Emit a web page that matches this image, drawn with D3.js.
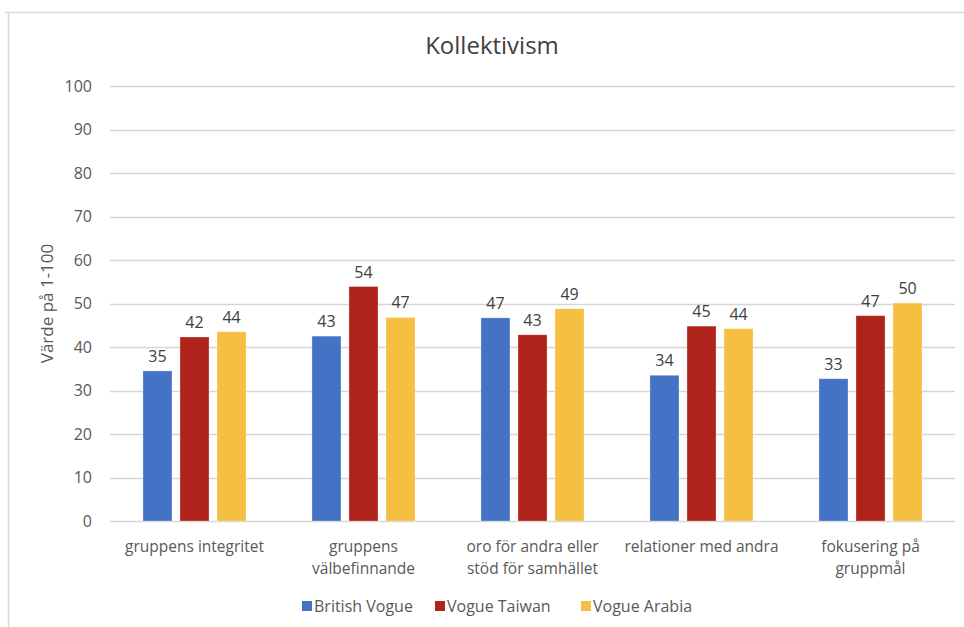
<!DOCTYPE html>
<html>
<head>
<meta charset="utf-8">
<script src="https://cdn.jsdelivr.net/npm/d3@7"></script>
<style>
  html, body { margin: 0; padding: 0; background: #fff; }
  svg { display: block; font-family: "Open Sans", "Liberation Sans", sans-serif; }
</style>
</head>
<body>
<svg id="chart" width="964" height="627"></svg>
<script>
const title = "Kollektivism";
const yAxisTitle = "Värde på 1-100";
const categories = [
  "gruppens integritet",
  "gruppens\nvälbefinnande",
  "oro för andra eller\nstöd för samhället",
  "relationer med andra",
  "fokusering på\ngruppmål"
];
const seriesNames = ["British Vogue", "Vogue Taiwan", "Vogue Arabia"];
const britishVogue = [34.5, 42.5, 46.7, 33.5, 32.7];
const vogueTaiwan  = [42.3, 53.9, 42.8, 44.8, 47.2];
const vogueArabia  = [43.5, 46.8, 48.8, 44.2, 50.1];
const yTicks = [0, 10, 20, 30, 40, 50, 60, 70, 80, 90, 100];
const colors = ["#4472C4", "#B0231B", "#F5BF42"];

const seriesValues = [britishVogue, vogueTaiwan, vogueArabia];

const svg = d3.select("#chart");
const W = 964, H = 627;
const plot = { left: 110, right: 955, top: 86, bottom: 521 };

// chart frame
svg.append("line").attr("x1", 5).attr("x2", W).attr("y1", 12.5).attr("y2", 12.5)
  .attr("stroke", "#d9d9d9").attr("stroke-width", 1.5);
svg.append("line").attr("x1", 8.5).attr("x2", 8.5).attr("y1", 12).attr("y2", H)
  .attr("stroke", "#d9d9d9").attr("stroke-width", 1.5);

const x0 = d3.scaleBand().domain(d3.range(categories.length))
  .range([plot.left, plot.right]).paddingInner(0.39).paddingOuter(0.195);
const x1 = d3.scaleBand().domain(d3.range(seriesNames.length))
  .range([0, x0.bandwidth()]).paddingInner(0.216).paddingOuter(0);
const y = d3.scaleLinear().domain([0, 100]).range([plot.bottom, plot.top]);

// gridlines
svg.append("g").selectAll("line").data(yTicks).join("line")
  .attr("x1", plot.left).attr("x2", plot.right)
  .attr("y1", d => Math.round(y(d)) + 0.5).attr("y2", d => Math.round(y(d)) + 0.5)
  .attr("stroke", "#d6d6d6").attr("stroke-width", 1.3);

// y axis labels
const yAxis = d3.axisLeft(y).tickValues(yTicks).tickSize(0).tickPadding(0);
const yg = svg.append("g").attr("transform", `translate(${plot.left - 18},0)`).call(yAxis);
yg.select(".domain").remove();
yg.selectAll("text").attr("font-size", 16).attr("fill", "#595959")
  .attr("font-family", "\"Open Sans\", sans-serif");

// y axis title
svg.append("text")
  .attr("transform", `translate(53, ${(plot.top + plot.bottom) / 2 + 0}) rotate(-90)`)
  .attr("text-anchor", "middle").attr("font-size", 17).attr("fill", "#595959")
  .text(yAxisTitle);

// title
svg.append("text").attr("x", 492).attr("y", 54).attr("text-anchor", "middle")
  .attr("font-size", 24).attr("fill", "#404040").text(title);

// bars
const groups = svg.append("g").selectAll("g").data(categories).join("g")
  .attr("transform", (d, i) => `translate(${x0(i)},0)`);

groups.each(function(cat, ci) {
  const g = d3.select(this);
  seriesNames.forEach((s, si) => {
    const v = seriesValues[si][ci];
    g.append("rect")
      .attr("x", x1(si)).attr("width", x1.bandwidth())
      .attr("y", y(v)).attr("height", y(0) - y(v))
      .attr("fill", colors[si])
      .attr("stroke", "#ffffff").attr("stroke-opacity", 0.35).attr("stroke-width", 0.8);
    g.append("text")
      .attr("x", x1(si) + x1.bandwidth() / 2).attr("y", y(v) - 9)
      .attr("text-anchor", "middle").attr("font-size", 16).attr("fill", "#404040")
      .text(Math.round(v));
  });
});

// x axis category labels
const xl = svg.append("g").selectAll("text").data(categories).join("text")
  .attr("x", (d, i) => x0(i) + x0.bandwidth() / 2)
  .attr("y", 552)
  .attr("text-anchor", "middle").attr("font-size", 15.5).attr("fill", "#595959");
xl.each(function(d) {
  const t = d3.select(this);
  d.split("\n").forEach((line, k) => {
    t.append("tspan").attr("x", t.attr("x")).attr("dy", k === 0 ? 0 : 22).text(line);
  });
});

// legend
const legendX = [302, 435, 581];
const lg = svg.append("g").selectAll("g").data(seriesNames).join("g")
  .attr("transform", (d, i) => `translate(${legendX[i]}, 601)`);
lg.append("rect").attr("width", 10).attr("height", 10).attr("fill", (d, i) => colors[i]);
lg.append("text").attr("x", 12).attr("y", 11).attr("font-size", 16).attr("fill", "#595959")
  .text(d => d);
</script>
</body>
</html>
